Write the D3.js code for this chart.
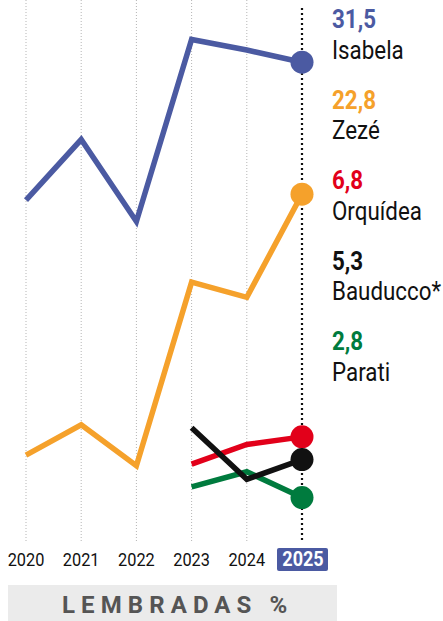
<!DOCTYPE html>
<html>
<head>
<meta charset="utf-8">
<script src="https://cdn.jsdelivr.net/npm/d3@7"></script>
<style>
  body { margin: 0; background: #fff; }
  svg { display: block; font-family: Roboto, "Noto Sans", sans-serif; }
</style>
</head>
<body>
<svg id="chart" width="443" height="621"></svg>
<script>
// years and series values (% lembradas)
var years = [2020, 2021, 2022, 2023, 2024, 2025]
var brands = ["Isabela", "Zezé", "Orquídea", "Bauducco*", "Parati"]
var valueLabels = ["31,5", "22,8", "6,8", "5,3", "2,8"]
var colors = ["#4b5aa2", "#f5a12b", "#e2001a", "#111111", "#007b3e"]

var isabela = [22.4, 26.4, 21.0, 33.0, 32.3, 31.5]
var zeze = [5.6, 7.6, 4.9, 17.0, 16.0, 22.8]
var orquidea = [null, null, null, 5.0, 6.3, 6.8]
var bauducco = [null, null, null, 7.4, 4.0, 5.3]
var parati = [null, null, null, 3.5, 4.5, 2.8]

var seriesValues = [isabela, zeze, orquidea, bauducco, parati]

var svg = d3.select("#chart")

var x = d3.scalePoint().domain(years).range([26, 302])
var y = d3.scaleLinear().domain([0, 35.6]).range([540, 0])

// grid lines
svg.append("g").selectAll("line")
  .data(years.slice(0, 5))
  .enter().append("line")
  .attr("x1", function(d){ return x(d) })
  .attr("x2", function(d){ return x(d) })
  .attr("y1", 0).attr("y2", 541)
  .style("stroke", "#b5b5b5")
  .style("stroke-width", 1)
  .style("stroke-dasharray", "1,2")

svg.append("line")
  .attr("x1", x(2025)).attr("x2", x(2025))
  .attr("y1", 8).attr("y2", 541)
  .style("stroke", "#111")
  .style("stroke-width", 2.2)
  .style("stroke-dasharray", "2,3")

// lines, drawn bottom series first
var line = d3.line()
  .defined(function(d){ return d.v != null })
  .x(function(d){ return x(d.year) })
  .y(function(d){ return y(d.v) })

var order = [1, 4, 2, 3, 0]
order.forEach(function(i){
  var pts = years.map(function(yr, j){ return {year: yr, v: seriesValues[i][j]} })
  svg.append("path")
    .datum(pts)
    .attr("d", line)
    .attr("fill", "none")
    .attr("stroke", colors[i])
    .attr("stroke-width", 5.5)
    .attr("stroke-linejoin", "miter")
})

order.forEach(function(i){
  svg.append("circle")
    .attr("cx", x(2025))
    .attr("cy", y(seriesValues[i][5]))
    .attr("r", 11.5)
    .attr("fill", colors[i])
})

// labels on the right
var labels = svg.append("g")
brands.forEach(function(b, i){
  var g = labels.append("g")
    .attr("transform", "translate(332," + (28 + i * 80.5) + ") scale(0.86,1)")
  g.append("text")
    .attr("x", 0).attr("y", 0)
    .style("font-size", "26px")
    .style("font-weight", "bold")
    .style("fill", colors[i])
    .text(valueLabels[i])
  g.append("text")
    .attr("x", 0).attr("y", 31)
    .style("font-size", "26px")
    .style("fill", "#111")
    .text(b)
})

// year axis
svg.append("rect")
  .attr("x", x(2025) - 25).attr("y", 548)
  .attr("width", 51).attr("height", 23)
  .attr("rx", 2)
  .attr("fill", "#4b5aa2")

years.forEach(function(yr){
  svg.append("g")
    .attr("transform", "translate(" + (x(yr) + (yr == 2025 ? 1 : 0)) + ",566) scale(0.86,1)")
    .append("text")
    .attr("text-anchor", "middle")
    .style("font-size", yr == 2025 ? "21px" : "19px")
    .style("font-weight", yr == 2025 ? "bold" : "normal")
    .style("fill", yr == 2025 ? "#fff" : "#111")
    .text(yr)
})

// footer
svg.append("rect")
  .attr("x", 8).attr("y", 585)
  .attr("width", 329).attr("height", 36)
  .attr("fill", "#ebebeb")

svg.append("text")
  .attr("x", 62).attr("y", 613)
  .style("font-size", "24px")
  .style("font-weight", "bold")
  .style("letter-spacing", "6.1px")
  .style("fill", "#555")
  .text("LEMBRADAS %")
</script>
</body>
</html>
